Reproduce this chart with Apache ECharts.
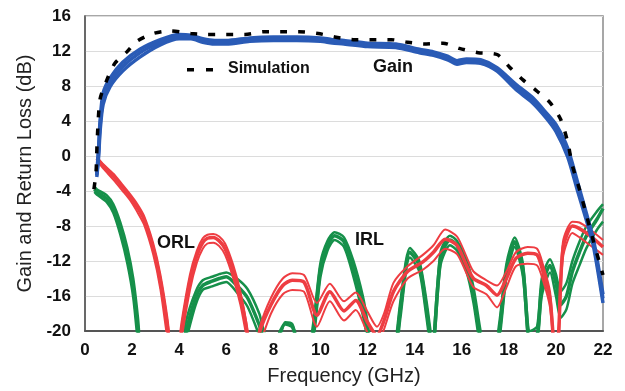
<!DOCTYPE html>
<html>
<head>
<meta charset="utf-8">
<script src="https://cdn.jsdelivr.net/npm/echarts@6/dist/echarts.min.js"></script>
<style>
  html, body { margin: 0; padding: 0; background: #fff; }
  #chart { width: 625px; height: 391px; }
</style>
</head>
<body>
<div id="chart"></div>
<script>
// axis ticks
var xTicks = [0, 2, 4, 6, 8, 10, 12, 14, 16, 18, 20, 22]
var yTicks = [-20, -16, -12, -8, -4, 0, 4, 8, 12, 16]

// gain (measured, 3 traces of the bundle)
var gainFreq = [0.5, 0.58, 0.64, 0.77, 1.06, 1.6, 2.33, 3.2, 4.0, 4.5, 5.0, 5.5, 6.0, 7.0, 8.0, 9.0, 10.0, 10.5, 11.0, 12.0, 13.2, 14.2, 14.8, 15.4, 15.8, 16.2, 16.8, 17.5, 18.3, 19.0, 19.6, 20.0, 20.5, 20.9, 21.3, 21.6, 22.0]
var gainMid = [-2.2, 0.5, 3.4, 6.5, 8.4, 10.2, 11.8, 13.0, 13.7, 13.6, 13.2, 13.0, 13.0, 13.3, 13.4, 13.4, 13.3, 13.1, 13.0, 12.7, 12.6, 12.0, 11.7, 11.2, 10.7, 10.9, 10.8, 9.9, 7.9, 6.4, 4.6, 3.2, 0.4, -3.3, -7.0, -10.0, -16.3]
var gainHigh = [-2.0, 1.0, 4.0, 7.2, 8.9, 10.7, 12.2, 13.3, 13.9, 13.8, 13.4, 13.2, 13.2, 13.5, 13.6, 13.6, 13.5, 13.3, 13.2, 12.9, 12.8, 12.2, 11.9, 11.4, 10.9, 11.1, 11.0, 10.1, 8.2, 6.7, 4.9, 3.6, 0.9, -2.8, -6.6, -9.6, -15.8]
var gainLow = [-2.4, 0.0, 2.8, 5.9, 7.9, 9.7, 11.3, 12.7, 13.4, 13.4, 13.0, 12.8, 12.8, 13.1, 13.2, 13.2, 13.1, 12.9, 12.8, 12.5, 12.4, 11.8, 11.5, 11.0, 10.5, 10.7, 10.6, 9.7, 7.6, 6.1, 4.3, 2.8, -0.1, -3.8, -7.4, -10.4, -16.8]

// gain (simulation)
var simFreq = [0.38, 0.47, 0.52, 0.64, 0.93, 1.27, 1.78, 2.2, 2.9, 3.6, 4.5, 5.2, 6.0, 6.8, 7.6, 8.4, 9.1, 9.9, 10.6, 11.4, 12.2, 13.0, 13.7, 14.4, 15.2, 15.9, 16.7, 17.5, 18.05, 18.6, 19.2, 19.75, 20.2, 20.5, 20.7, 21.0, 21.3, 21.6, 22.0]
var simGain = [-3.8, -1.8, 1.9, 6.5, 8.7, 10.6, 11.9, 13.1, 14.0, 14.3, 14.0, 13.9, 13.9, 13.9, 14.2, 14.2, 14.2, 14.0, 13.6, 13.3, 13.3, 13.3, 13.0, 12.8, 12.9, 12.3, 11.8, 11.6, 10.1, 8.7, 7.4, 6.1, 4.2, 1.6, -1.1, -3.8, -6.8, -9.8, -13.6]

// output return loss
var orlFreq = [0.5, 0.8, 1.2, 1.6, 1.9, 2.2, 2.5, 2.9, 3.2, 3.5, 3.8, 4.1, 4.46, 4.75, 5.0, 5.2, 5.45, 5.7, 5.95, 6.3, 6.6, 6.85, 7.1, 7.43, 7.9, 8.4, 8.8, 9.3, 9.85, 10.4, 11.0, 11.5, 12.0, 12.4, 12.7, 13.1, 13.7, 14.35, 14.8, 15.3, 15.8, 16.2, 16.5, 17.05, 17.5, 17.9, 18.3, 18.8, 19.2, 19.45, 19.75, 20.0, 20.12, 20.3, 20.7, 21.0, 21.45, 22.0]
var orlMid = [-0.3, -1.2, -2.3, -3.6, -4.6, -5.8, -7.2, -10.6, -14.3, -19.5, -26, -20, -14.3, -11.4, -9.9, -9.4, -9.3, -9.7, -10.6, -13.2, -16.2, -19.5, -24, -20, -17, -14.8, -14.2, -14.4, -18.2, -15.5, -17.7, -16.5, -19.0, -20.5, -18.8, -15.5, -13.2, -12.1, -11.0, -9.5, -10.2, -12.5, -14.0, -14.8, -15.9, -14.0, -11.7, -11.1, -11.3, -13.2, -16.3, -24, -20, -10.6, -8.0, -8.3, -9.1, -10.4]
var orlHigh = [-0.1, -1.0, -2.0, -3.3, -4.3, -5.4, -6.8, -10.0, -13.5, -18.5, -25, -19, -13.5, -10.8, -9.4, -9.0, -8.9, -9.2, -10.0, -12.5, -15.5, -19.0, -24, -19.5, -16.2, -14.0, -13.4, -13.6, -16.8, -14.6, -16.6, -15.6, -17.8, -19.5, -18.0, -14.5, -12.6, -11.3, -10.2, -8.4, -9.2, -11.5, -13.2, -14.2, -14.8, -13.2, -11.0, -10.4, -10.6, -12.4, -15.5, -24, -19.5, -9.8, -7.5, -7.6, -8.4, -9.6]
var orlLow = [-0.5, -1.5, -2.7, -4.0, -5.0, -6.3, -7.8, -11.3, -15.2, -21, -27, -21, -15.3, -12.2, -10.6, -10.0, -9.9, -10.3, -11.3, -14.0, -17.0, -20.5, -24, -21.5, -18, -15.8, -15.3, -15.5, -19.5, -16.6, -18.8, -17.6, -20.2, -21.5, -19.8, -16.6, -14.0, -13.0, -12.0, -10.6, -11.2, -13.4, -15.0, -15.8, -17.3, -15.0, -12.6, -12.3, -12.5, -14.2, -17.3, -24, -21, -11.6, -8.8, -9.3, -10.2, -11.3]

// input return loss
var irlFreq = [0.4, 0.5, 0.93, 1.2, 1.5, 1.8, 2.05, 2.25, 2.6, 3.5, 4.3, 4.7, 5.0, 5.4, 5.7, 6.0, 6.45, 6.9, 7.4, 7.6, 8.0, 8.3, 8.5, 8.8, 9.0, 9.4, 9.7, 10.0, 10.3, 10.6, 11.0, 11.4, 11.8, 12.0, 12.6, 13.2, 13.4, 13.8, 14.2, 14.5, 14.75, 15.1, 15.5, 15.8, 16.2, 16.5, 16.8, 17.2, 17.6, 17.9, 18.25, 18.6, 18.9, 19.2, 19.4, 19.75, 20.0, 20.2, 20.45, 20.7, 21.0, 21.3, 21.75, 22.0]
var irlMid = [-3.8, -4.1, -4.9, -6.0, -8.3, -11.4, -15.1, -20, -30, -30,
  -20, -16.2, -14.8, -14.3, -14.0, -13.8, -14.8, -16.2, -19.3, -21,
  -22, -20, -19.2, -19.5, -21, -23, -20, -12.9, -10.2, -9.1,
  -9.8, -12.9, -17.1, -20, -30, -22, -17.4, -11.0, -12.5, -17.4,
  -22, -11.7, -9.6, -10.2, -12.5, -15.9, -21, -26, -20, -13.0,
  -9.8, -13.0, -21, -20.5, -15.0, -12.5, -14.5, -17.0, -16.0, -13.2,
  -11.0, -9.1, -7.2, -6.0]
var irlHigh = [-3.5, -3.8, -4.5, -5.5, -7.6, -10.5, -14.0, -18.5, -28, -30,
  -18.8, -15.5, -14.2, -13.8, -13.5, -13.3, -14.0, -15.2, -18.0, -20,
  -22, -20.5, -19.0, -19.2, -21, -23, -19, -12.2, -9.7, -8.7,
  -9.3, -12.0, -16.0, -19.0, -30, -21, -16.5, -10.5, -12.0, -16.5,
  -21, -11.0, -9.1, -9.7, -11.8, -15.0, -20, -26, -19, -12.3,
  -9.3, -12.3, -20, -19.5, -14.0, -11.8, -13.5, -15.5, -14.5, -12.0,
  -9.8, -8.0, -6.3, -5.5]
var irlLow = [-4.1, -4.4, -5.3, -6.5, -9.0, -12.3, -16.2, -21.5, -30, -30,
  -21, -17.0, -15.3, -14.9, -14.6, -14.4, -15.6, -17.2, -20.5, -22,
  -22, -21, -20.5, -20.5, -22, -23, -21, -13.8, -10.8, -9.6,
  -10.4, -13.8, -18.2, -21, -30, -23, -18.4, -11.6, -13.2, -18.4,
  -23, -12.5, -10.2, -10.8, -13.2, -16.8, -22, -26, -21, -13.8,
  -10.4, -13.8, -22, -21.5, -16.0, -13.3, -16.0, -18.5, -17.5, -14.6,
  -12.5, -10.5, -8.4, -7.5]

var BLUE = '#2a5bb6', RED = '#ee3d42', GREEN = '#16904a'
var FONT = 'Liberation Sans, Arial, sans-serif'

function pairs(xs, ys) {
  return xs.map(function (x, i) { return [x, ys[i]] })
}
function trace(name, xs, ys, color, width, z) {
  return {
    name: name,
    type: 'line',
    data: pairs(xs, ys),
    showSymbol: false,
    smooth: 0.25,
    clip: true,
    z: z,
    lineStyle: { color: color, width: width },
    silent: true
  }
}

var chart = echarts.init(document.getElementById('chart'))
var option = {
  backgroundColor: '#fff',
  animation: false,
  grid: {
    left: 85, right: 22, top: 16, bottom: 58,
    show: true,
    borderColor: '#8a8a8a',
    borderWidth: 1.5
  },
  xAxis: {
    type: 'value',
    min: xTicks[0],
    max: xTicks[xTicks.length - 1],
    interval: 2,
    name: 'Frequency (GHz)',
    nameLocation: 'middle',
    nameGap: 35,
    nameTextStyle: { fontFamily: FONT, fontSize: 20, color: '#222' },
    axisLine: { show: true, onZero: false, lineStyle: { color: '#555', width: 2 } },
    axisTick: { show: false },
    splitLine: { show: false },
    axisLabel: { fontFamily: FONT, fontSize: 17, fontWeight: 'bold', color: '#111', margin: 11 }
  },
  yAxis: {
    type: 'value',
    min: yTicks[0],
    max: yTicks[yTicks.length - 1],
    interval: 4,
    name: 'Gain and Return Loss (dB)',
    nameLocation: 'middle',
    nameGap: 50,
    nameTextStyle: { fontFamily: FONT, fontSize: 20, color: '#222' },
    axisLine: { show: true, onZero: false, lineStyle: { color: '#555', width: 1.5 } },
    axisTick: { show: false },
    splitLine: { show: true, lineStyle: { color: '#dcdcdc', width: 1 } },
    axisLabel: { fontFamily: FONT, fontSize: 17, fontWeight: 'bold', color: '#111', margin: 14 }
  },
  series: [
    trace('IRL hi', irlFreq, irlHigh, GREEN, 2.5, 2),
    trace('IRL lo', irlFreq, irlLow, GREEN, 2.5, 2),
    trace('IRL', irlFreq, irlMid, GREEN, 3.5, 2),
    trace('ORL hi', orlFreq, orlHigh, RED, 2, 3),
    trace('ORL lo', orlFreq, orlLow, RED, 2, 3),
    trace('ORL', orlFreq, orlMid, RED, 3.5, 3),
    trace('Gain hi', gainFreq, gainHigh, BLUE, 3.5, 4),
    trace('Gain lo', gainFreq, gainLow, BLUE, 3.5, 4),
    trace('Gain', gainFreq, gainMid, BLUE, 3.5, 4),
    {
      name: 'Simulation',
      type: 'line',
      data: pairs(simFreq, simGain),
      showSymbol: false,
      smooth: 0.25,
      z: 5,
      silent: true,
      lineStyle: { color: '#000', width: 3.5, type: [7, 11] }
    }
  ],
  graphic: [
    { type: 'rect', left: 187, top: 68, shape: { width: 7, height: 3.5 }, style: { fill: '#000' } },
    { type: 'rect', left: 206, top: 68, shape: { width: 7, height: 3.5 }, style: { fill: '#000' } },
    { type: 'text', left: 228, top: 61, style: { text: 'Simulation', font: 'bold 16px ' + FONT, fill: '#111' } },
    { type: 'text', left: 373, top: 58, style: { text: 'Gain', font: 'bold 18px ' + FONT, fill: '#111' } },
    { type: 'text', left: 157, top: 234, style: { text: 'ORL', font: 'bold 18px ' + FONT, fill: '#111' } },
    { type: 'text', left: 355, top: 231, style: { text: 'IRL', font: 'bold 18px ' + FONT, fill: '#111' } }
  ]
}
chart.setOption(option)
</script>
</body>
</html>
